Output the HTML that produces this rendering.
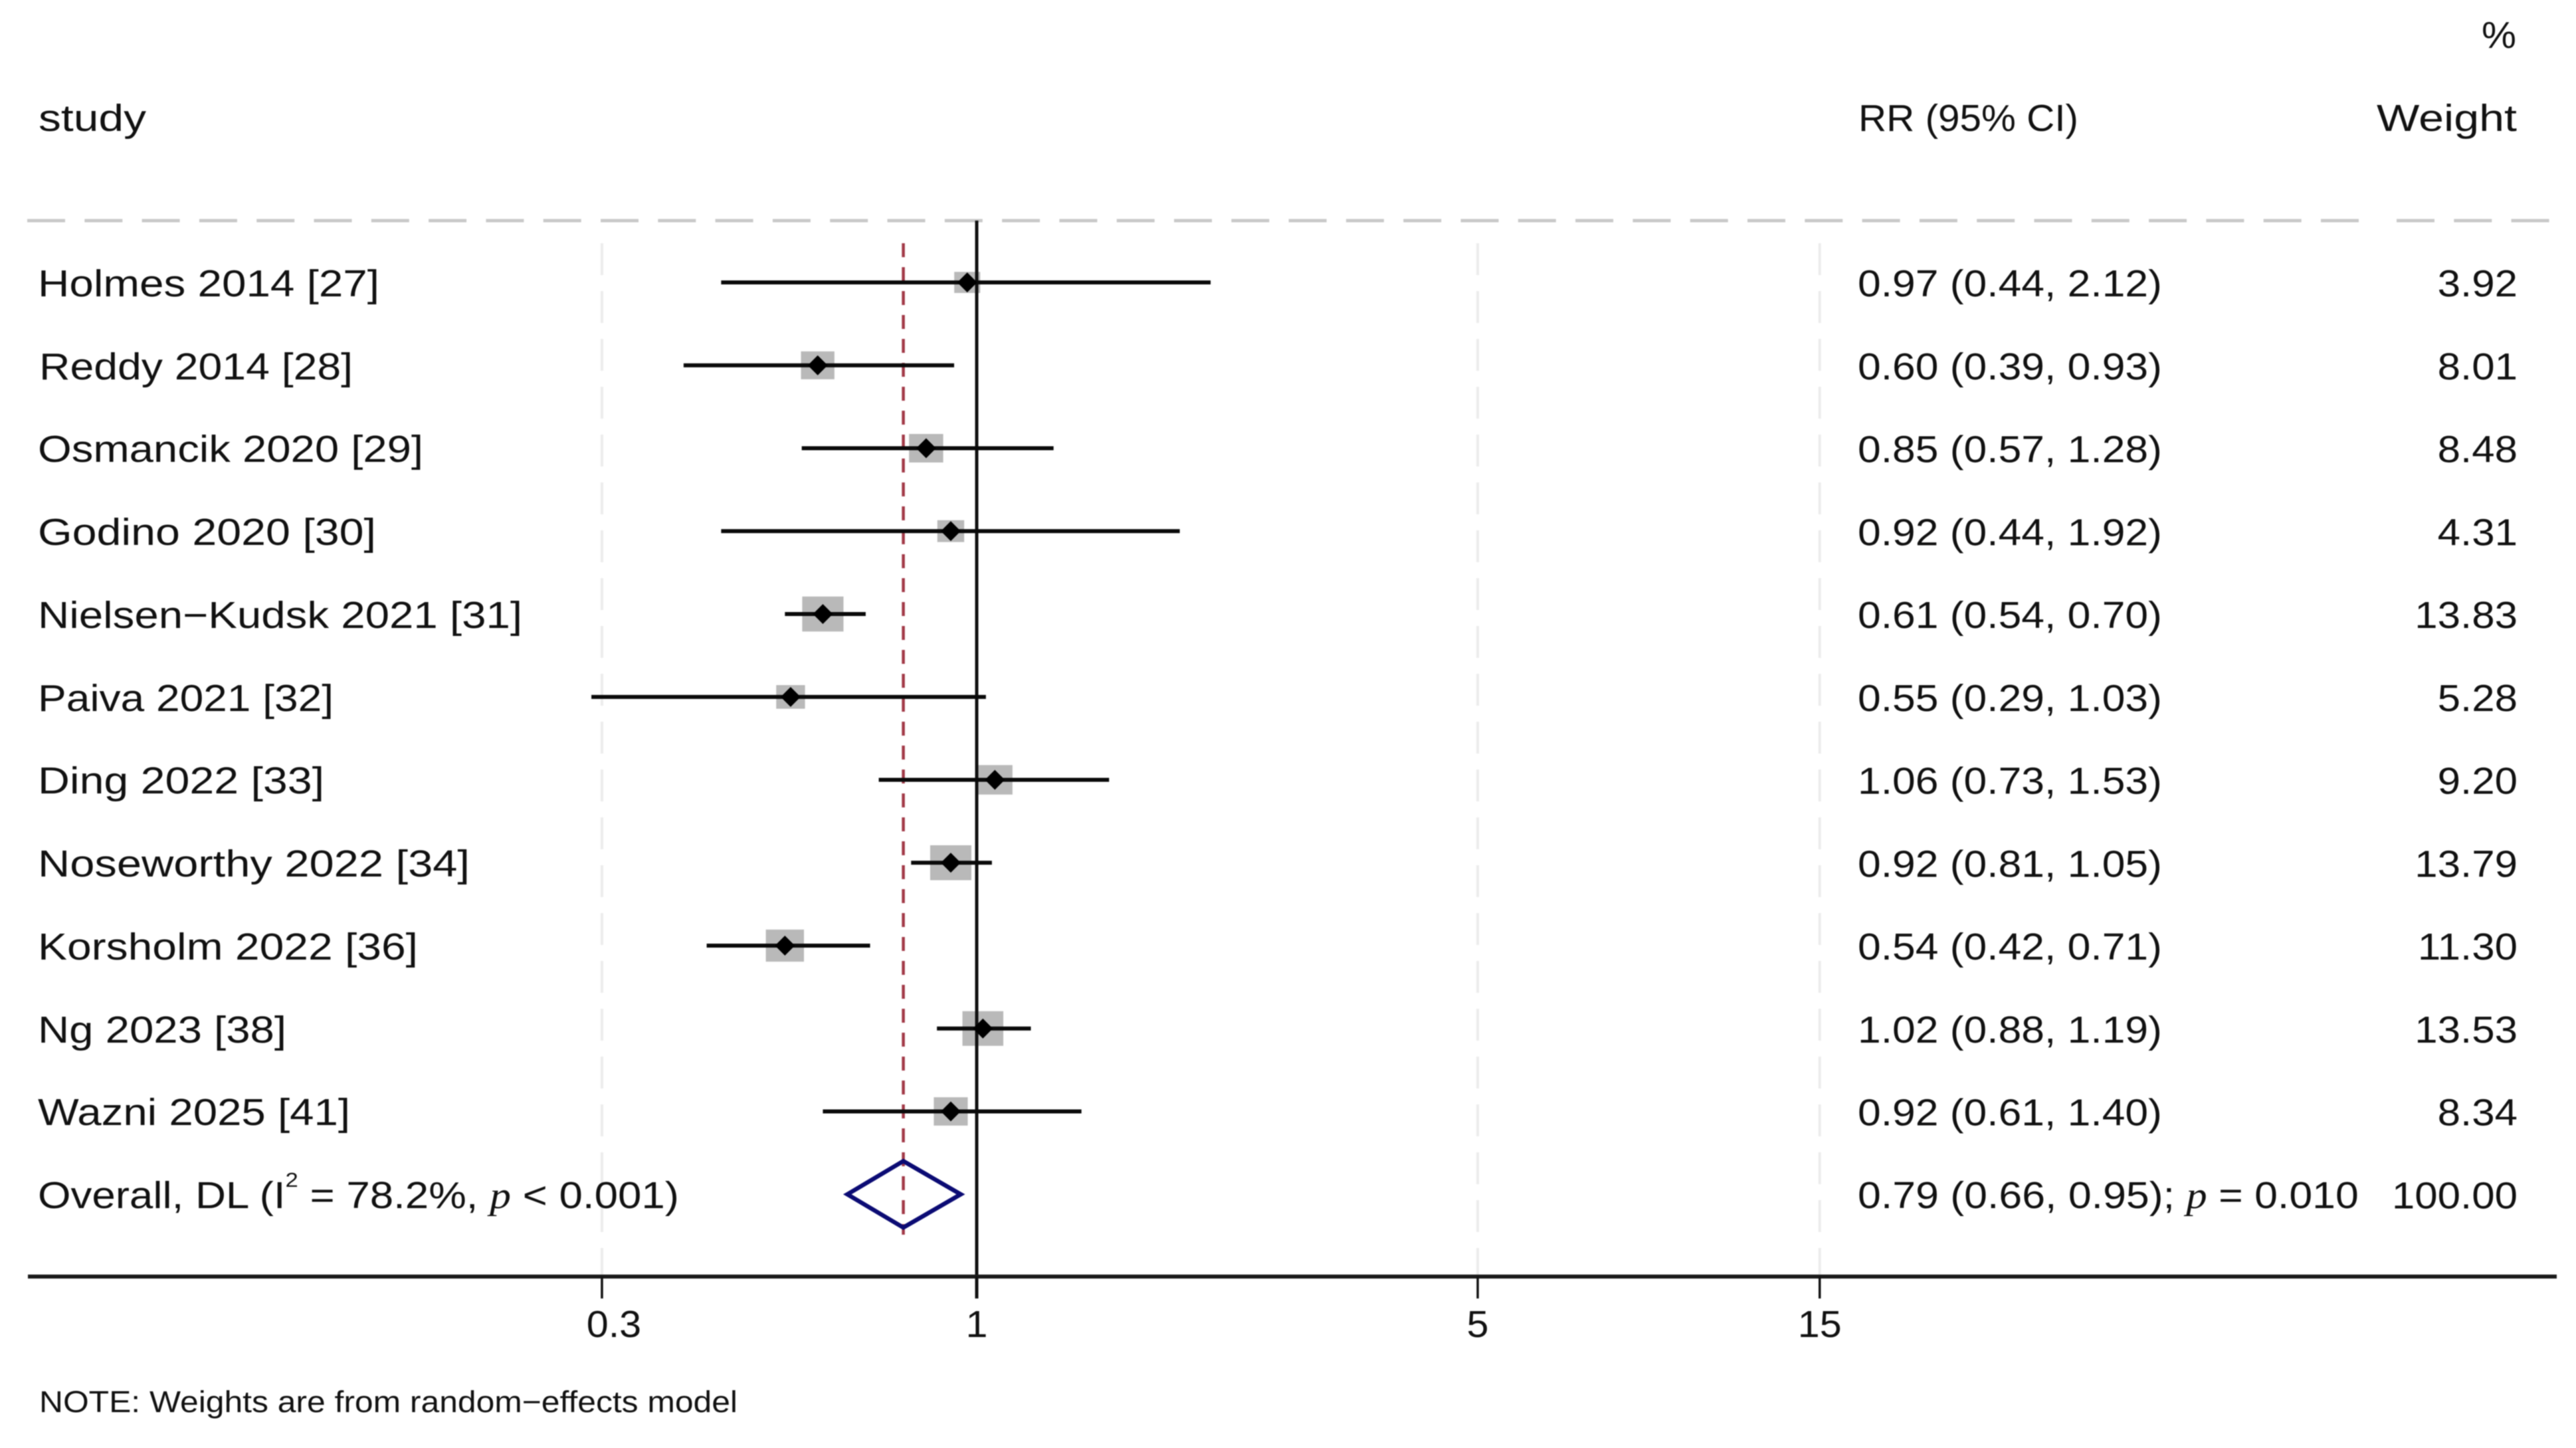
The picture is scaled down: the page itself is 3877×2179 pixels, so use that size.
<!DOCTYPE html>
<html lang="en">
<head>
<meta charset="utf-8">
<title>Forest plot</title>
<style>
html,body{margin:0;padding:0;background:#fff;}
svg{display:block;filter:blur(0.8px);}
text{font-family:"Liberation Sans",sans-serif;fill:#111;font-size:57px;}
.it{font-family:"Liberation Serif",serif;font-style:italic;}
</style>
</head>
<body>
<svg id="chart" xmlns="http://www.w3.org/2000/svg" width="3877" height="2179" viewBox="0 0 3877 2179">
<rect x="0" y="0" width="3877" height="2179" fill="#fff"/>
<g id="marks"></g>

<text x="3735" y="72" textLength="52" lengthAdjust="spacingAndGlyphs">%</text>
<text x="58" y="197" textLength="162" lengthAdjust="spacingAndGlyphs">study</text>
<text x="2797" y="197" textLength="331" lengthAdjust="spacingAndGlyphs">RR (95% CI)</text>
<text x="3577" y="197" textLength="211" lengthAdjust="spacingAndGlyphs">Weight</text>

<text x="57" y="446" textLength="514" lengthAdjust="spacingAndGlyphs">Holmes 2014 [27]</text>
<text x="59" y="571" textLength="472" lengthAdjust="spacingAndGlyphs">Reddy 2014 [28]</text>
<text x="57" y="695" textLength="580" lengthAdjust="spacingAndGlyphs">Osmancik 2020 [29]</text>
<text x="57" y="820" textLength="509" lengthAdjust="spacingAndGlyphs">Godino 2020 [30]</text>
<text x="57" y="945" textLength="729" lengthAdjust="spacingAndGlyphs">Nielsen−Kudsk 2021 [31]</text>
<text x="57" y="1070" textLength="445" lengthAdjust="spacingAndGlyphs">Paiva 2021 [32]</text>
<text x="57" y="1194" textLength="431" lengthAdjust="spacingAndGlyphs">Ding 2022 [33]</text>
<text x="57" y="1319" textLength="650" lengthAdjust="spacingAndGlyphs">Noseworthy 2022 [34]</text>
<text x="57" y="1444" textLength="572" lengthAdjust="spacingAndGlyphs">Korsholm 2022 [36]</text>
<text x="57" y="1569" textLength="374" lengthAdjust="spacingAndGlyphs">Ng 2023 [38]</text>
<text x="57" y="1693" textLength="470" lengthAdjust="spacingAndGlyphs">Wazni 2025 [41]</text>

<text transform="translate(57,1818) scale(1.117,1)">Overall, DL (I<tspan style="font-size:31px" dy="-32">2</tspan><tspan dy="32"> = 78.2%, </tspan><tspan class="it">p</tspan> &lt; 0.001)</text>
<text transform="translate(2796,1818) scale(1.099,1)">0.79 (0.66, 0.95); <tspan class="it">p</tspan> = 0.010</text>

<text x="59" y="2125" style="font-size:45px" textLength="1051" lengthAdjust="spacingAndGlyphs">NOTE: Weights are from random−effects model</text>
</svg>
<script>
const studies = ['Holmes 2014','Reddy 2014','Osmancik 2020','Godino 2020','Nielsen-Kudsk 2021','Paiva 2021','Ding 2022','Noseworthy 2022','Korsholm 2022','Ng 2023','Wazni 2025'];
const rr = [0.97,0.60,0.85,0.92,0.61,0.55,1.06,0.92,0.54,1.02,0.92];
const ciLow = [0.44,0.39,0.57,0.44,0.54,0.29,0.73,0.81,0.42,0.88,0.61];
const ciHigh = [2.12,0.93,1.28,1.92,0.70,1.03,1.53,1.05,0.71,1.19,1.40];
const weights = [3.92,8.01,8.48,4.31,13.83,5.28,9.20,13.79,11.30,13.53,8.34];
const overallRR = 0.79;
const overallLow = 0.66;
const overallHigh = 0.95;
const overallWeight = 100.00;
const tickValues = [0.3,1,5,15];
const tickLabels = ['0.3','1','5','15'];
const gridValues = [0.3,5,15];

const NS = 'http://www.w3.org/2000/svg';
const marks = document.getElementById('marks');
const svgRoot = document.getElementById('chart');
const xOf = v => 1470 + 468.5 * Math.log(v);
const yOf = i => 425 + 124.75 * i;
const AXIS_Y = 1921, TICK_END = 1954, GRID_TOP = 366, HEADER_Y = 332;

function make(tag, props, parent) {
  const el = document.createElementNS(NS, tag);
  for (const k in props) el.setAttribute(k, props[k]);
  (parent || marks).appendChild(el);
  return el;
}

/* header rule */
let rule = make('line', {x1:41,x2:3579,y1:HEADER_Y,y2:HEADER_Y,stroke:'#c9c9c9','stroke-width':5,'stroke-dasharray':'57 29.3'});


rule = make('line', {x1:3607,x2:3838,y1:HEADER_Y,y2:HEADER_Y,stroke:'#c9c9c9','stroke-width':5,'stroke-dasharray':'57 29.3'});



/* gridlines */
gridValues.forEach(v => {
  const g = make('line', {x1:xOf(v),x2:xOf(v),y1:GRID_TOP,y2:AXIS_Y,stroke:'#ececec','stroke-width':4,'stroke-dasharray':'48 24'});
  
  
});

/* pooled-estimate reference line */
const refLine = make('line', {x1:xOf(overallRR),x2:xOf(overallRR),y1:GRID_TOP,y2:1858,stroke:'#a23a48','stroke-width':4.5,'stroke-dasharray':'21 15'});



/* study rows */
rr.forEach((v, i) => {
  const y = yOf(i), root = Math.sqrt(weights[i]);
  const bw = 13 + 13.2 * root, bh = 8 + 12 * root;
  const box = make('rect', {x:xOf(v)-bw/2,y:y-bh/2,width:bw,height:bh,fill:'#b9b9b9'});
  
  
  box.setAttribute('aria-label', studies[i]);
});

/* null line drawn above boxes */
const nullLine = make('line', {x1:xOf(1),x2:xOf(1),y1:HEADER_Y,y2:TICK_END,stroke:'#111','stroke-width':5});



rr.forEach((v, i) => {
  const y = yOf(i), cx = xOf(v);
  const ci = make('line', {x1:xOf(ciLow[i]),x2:xOf(ciHigh[i]),y1:y,y2:y,stroke:'#0a0a0a','stroke-width':6});
  
  
  const pt = make('polygon', {points:[[cx-15,y],[cx,y-15],[cx+15,y],[cx,y+15]].join(' '),fill:'#000'});
  
  

  const rrText = make('text', {transform:`translate(2796,${y+21}) scale(1.095,1)`}, svgRoot);
  rrText.textContent = `${v.toFixed(2)} (${ciLow[i].toFixed(2)}, ${ciHigh[i].toFixed(2)})`;
  
  

  const wText = make('text', {transform:`translate(3789,${y+21}) scale(1.085,1)`,'text-anchor':'end'}, svgRoot);
  wText.textContent = weights[i].toFixed(2);
  
  
});

/* overall row */
const oy = yOf(rr.length);
const dm = make('polygon', {points:[[xOf(overallLow),oy],[xOf(overallRR),oy-50],[xOf(overallHigh),oy],[xOf(overallRR),oy+50]].join(' '),fill:'none',stroke:'#0b0b74','stroke-width':6.5});


const owText = make('text', {transform:`translate(3789,${oy+21}) scale(1.085,1)`,'text-anchor':'end'}, svgRoot);
owText.textContent = overallWeight.toFixed(2);



/* axis */
const axis = make('line', {x1:42,x2:3848,y1:AXIS_Y,y2:AXIS_Y,stroke:'#1a1a1a','stroke-width':6});


tickValues.forEach((v, i) => {
  const t = make('line', {x1:xOf(v),x2:xOf(v),y1:AXIS_Y,y2:TICK_END,stroke:'#111','stroke-width':3.5});
  
  
  /* the sub-1 label sits right of its tick in the source figure */
  const nudge = v < 1 ? 18 : 0;
  const lab = make('text', {transform:`translate(${xOf(v)+nudge},2012) scale(1.04,1)`,'text-anchor':'middle'}, svgRoot);
  lab.textContent = tickLabels[i];
  
  
});
</script>
</body>
</html>
